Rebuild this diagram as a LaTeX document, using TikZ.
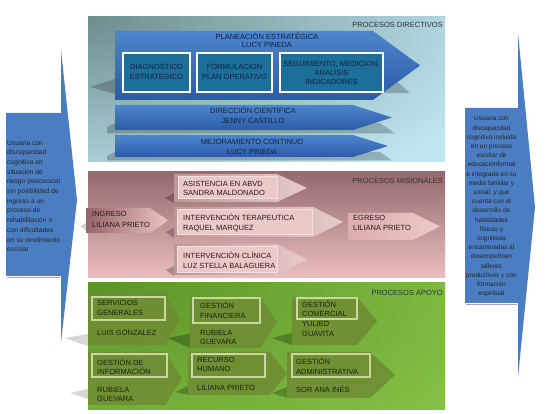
\documentclass[tikz,border=0pt]{standalone}
\usepackage{fontspec}
\setmainfont{Liberation Sans}
\definecolor{bigblue}{HTML}{4A7DC2}
\definecolor{arrtop}{HTML}{4D85CC}
\definecolor{arrbot}{HTML}{2B5CA7}
\definecolor{tealbox}{HTML}{1C6F99}
\definecolor{navytxt}{HTML}{13213F}
\definecolor{mistxt}{HTML}{2A1818}
\definecolor{apotxt}{HTML}{1A2410}
\definecolor{misarr}{HTML}{DDB4B4}
\definecolor{misin}{HTML}{ECC9C9}
\definecolor{misbd}{HTML}{F5DEDE}
\definecolor{apoarr}{HTML}{6F8D33}
\definecolor{apobd}{HTML}{C8D89E}
\definecolor{dirR}{HTML}{C0E6F0}
\definecolor{dirDk}{HTML}{6E8D8F}
\definecolor{misT}{HTML}{946A6E}
\definecolor{misB}{HTML}{EBBDBF}
\definecolor{misDk}{HTML}{7E545A}
\definecolor{apoL}{HTML}{5A9428}
\definecolor{apoR}{HTML}{96D452}
\newcommand{\pentarrow}[6][]{%
  \path[#1] (#2,#3) -- (#4,#3) -- (#5,{(#3+#6)/2}) -- (#4,#6) -- (#2,#6) -- cycle;}
\begin{document}
\begin{tikzpicture}[x=1pt,y=-1pt,
  sidetxt/.style={inner sep=0pt, text=black!85, font=\fontsize{6.7}{9.7}\selectfont},
  dirtxt/.style={inner sep=0pt, text=navytxt, align=center, font=\fontsize{7.5}{9.5}\selectfont},
  mistext/.style={inner sep=0pt, text=mistxt, align=left, anchor=west, font=\fontsize{7.5}{9.5}\selectfont},
  apotext/.style={inner sep=0pt, text=apotxt, align=left, anchor=west, font=\fontsize{7.5}{9.5}\selectfont},
  title/.style={inner sep=0pt, anchor=east, font=\fontsize{7.5}{9}\selectfont},
  bluearrow/.style={top color=arrtop, bottom color=arrbot},
  shadowgray/.style={fill=black, opacity=0.22},
  tealrect/.style={fill=tealbox, draw=white, line width=1.6pt},
  misarrow/.style={left color=misarr!85!black, right color=misarr!70!white},
  misrect/.style={fill=misin, draw=misbd, line width=1pt},
  apoarrow/.style={fill=apoarr, fill opacity=0.9},
  aporect/.style={draw=apobd, line width=1.2pt},
  darkwedge/.style={fill=black, opacity=0.25}
]
\useasboundingbox (0,0) rectangle (550,414);
\fill[white] (0,0) rectangle (550,414);

% ---------- side arrows ----------
\fill[bigblue] (6,113) -- (61,113) -- (61,50) -- (77,200) -- (61,342) -- (61,276) -- (6,276) -- cycle;
\draw[gray!70, line width=1pt] (7,278) -- (60,278);
\node[sidetxt, align=left, anchor=north west] (lefttxt) at (7,140)
  {Usuaria con\\discapacidad\\cognitiva en\\situación de\\riesgo psicosocial\\sin posibilidad de\\ingreso a un\\proceso de\\rehabilitación o\\con dificultades\\en su rendimiento\\escolar};

\fill[bigblue] (465,108) -- (518,108) -- (518,33) -- (535,207) -- (518,377) -- (518,303) -- (465,303) -- cycle;
\draw[gray!70, line width=1pt] (466,305) -- (517,305);
\node[inner sep=0pt, text=black!85, align=center, anchor=north, font=\fontsize{6.5}{9.2}\selectfont] (righttxt) at (491.5,116)
  {Usuaria con\\discapacidad\\cognitiva incluida\\en un proceso\\escolar de\\educaciónformal\\e integrada en su\\medio familiar y\\social, y que\\cuenta con el\\desarrollo de\\habilidades\\físicas y\\cognitivas\\encaminadas al\\desempeñoen\\talleres\\productivos y con\\formación\\espiritual};

% ---------- PROCESOS DIRECTIVOS ----------
\begin{scope}
\clip (88,17) rectangle (445,162);
\fill[dirR] (88,17) rectangle (445,162);
\shade[inner color=dirDk, outer color=dirR] (88,17) ellipse (440 and 200);
\end{scope}
\node[title, text=black!80] (tdir) at (443,25) {PROCESOS DIRECTIVOS};

\fill[shadowgray] (90,87) -- (115,79) -- (395,80) -- (410,93) -- (115,94) -- cycle;
\pentarrow[bluearrow]{115}{31}{373}{420}{100}
\node[dirtxt, font=\fontsize{7.5}{8.3}\selectfont] (plan) at (267,40) {PLANEACIÓN ESTRATÉGICA\\LUCY PINEDA};
\draw[tealrect] (123,53) rectangle (190,92);
\node[dirtxt] (diag) at (156.5,72) {DIAGNOSTICO\\ESTRATEGICO};
\draw[tealrect] (197,53) rectangle (272,92);
\node[dirtxt] (form) at (234.5,72) {FORMULACION\\PLAN OPERATIVO};
\draw[tealrect] (280,53) rectangle (383,92);
\node[dirtxt, font=\fontsize{7.5}{9}\selectfont] (segu) at (331.5,72.5) {SEGUIMIENTO, MEDICION,\\ANALISIS\\INDICADORES};

\fill[shadowgray] (107,127) -- (115,123) -- (380,123) -- (395,133.5) -- (107,133.5) -- cycle;
\pentarrow[bluearrow]{115}{105}{353}{392}{130}
\node[dirtxt, font=\fontsize{7.5}{10}\selectfont] (dirc) at (253,115.5) {DIRECCIÓN CIENTÍFICA\\JENNY CASTILLO};

\fill[shadowgray] (107,156) -- (115,152) -- (380,152) -- (392,160.5) -- (107,160.5) -- cycle;
\pentarrow[bluearrow]{115}{135}{353}{388}{157}
\node[dirtxt, font=\fontsize{7.5}{10}\selectfont] (mejo) at (252,146.5) {MEJORAMIENTO CONTINÚO\\LUCY PINEDA};

% ---------- PROCESOS MISIONALES ----------
\shade[top color=misT, bottom color=misB] (88,172) rectangle (445,278);
\node[title, text=black!80] (tmis) at (443,181) {PROCESOS MISIONALES};

\fill[darkwedge] (165,198) -- (174,193) -- (174,203) -- cycle;
\pentarrow[misarrow]{174}{174}{277}{307}{202}
\draw[misrect] (178,177) rectangle (277,199);
\node[mistext, font=\fontsize{7.5}{9}\selectfont] (asis) at (183,188) {ASISTENCIA EN ABVD\\SANDRA MALDONADO};

\fill[darkwedge] (166,232) -- (174,228) -- (174,238) -- cycle;
\pentarrow[misarrow]{174}{207}{313}{343}{237}
\draw[misrect] (177,210) rectangle (312,235);
\node[mistext] (tera) at (183,223) {INTERVENCIÓN TERAPEUTICA\\RAQUEL MARQUEZ};

\fill[darkwedge] (166,270) -- (174,266) -- (174,276) -- cycle;
\pentarrow[misarrow]{174}{244}{277}{307}{275}
\draw[misrect] (177,247) rectangle (277,273);
\node[mistext, font=\fontsize{7.5}{10}\selectfont] (clin) at (183,260) {INTERVENCIÓN CLÍNICA\\LUZ STELLA BALAGUERA};

\fill[black, opacity=0.18] (80,226) -- (88,222) -- (88,232) -- cycle;
\pentarrow[left color={rgb,255:red,150;green,100;blue,106}, right color={rgb,255:red,236;green,196;blue,196}]{86}{208}{150}{168}{233}
\node[mistext, font=\fontsize{7.5}{11}\selectfont] (ingr) at (92,219) {INGRESO\\LILIANA PRIETO};

\pentarrow[left color={rgb,255:red,220;green,172;blue,174}, right color={rgb,255:red,238;green,200;blue,200}]{348}{213}{413}{440}{240}
\node[mistext, font=\fontsize{7.5}{10}\selectfont] (egre) at (353,223.3) {EGRESO\\LILIANA PRIETO};

% ---------- PROCESOS APOYO ----------
\begin{scope}
\clip (88,283) rectangle (445,410);
\fill[apoR] (88,283) rectangle (445,410);
\shade[inner color=apoL, outer color=apoR] (88,283) ellipse (620 and 300);
\end{scope}
\node[title, text=black!80] (tapo) at (443,293) {PROCESOS APOYO};

\fill[black, opacity=0.16] (65,338) -- (88,334) -- (88,346) -- cycle;
\fill[black, opacity=0.16] (70,393) -- (88,389) -- (88,399) -- cycle;
\fill[darkwedge] (167,338) -- (190,334) -- (190,348) -- cycle;
\fill[darkwedge] (272,338) -- (292,333) -- (292,345) -- cycle;
\fill[darkwedge] (176,392) -- (188,386) -- (188,395) -- cycle;
\fill[darkwedge] (272,393) -- (287,387) -- (287,398) -- cycle;

\pentarrow[apoarrow]{88}{293}{165}{180}{345}
\draw[aporect] (92,297) rectangle (165,320);
\node[apotext, font=\fontsize{7.5}{10}\selectfont] (serv) at (97,308) {SERVICIOS\\GENERALES};
\node[apotext] (luis) at (97,333) {LUIS GONZALEZ};

\pentarrow[apoarrow]{190}{297}{260}{277}{348}
\draw[aporect] (193,298) rectangle (260,323);
\node[apotext, font=\fontsize{7.5}{10}\selectfont] (fina) at (200,310) {GESTIÓN\\FINANCIERA};
\node[apotext, font=\fontsize{7.5}{9}\selectfont] (rub1) at (200,337.5) {RUBIELA\\GUEVARA};

\pentarrow[apoarrow]{292}{297}{357}{377}{345}
\draw[aporect] (297,298) rectangle (357,319);
\node[apotext, font=\fontsize{7.5}{9.7}\selectfont] (come) at (302,318.5) {GESTIÓN\\COMERCIAL\\YULIED\\GUAVITA};

\pentarrow[apoarrow]{88}{352}{165}{182}{405}
\draw[aporect] (92,354) rectangle (167,377);
\node[apotext, font=\fontsize{7.5}{9}\selectfont] (info) at (97,366.5) {GESTIÓN DE\\INFORMACIÓN};
\node[apotext, font=\fontsize{7.5}{9}\selectfont] (rub2) at (97,394.5) {RUBIELA\\GUEVARA};

\pentarrow[apoarrow]{188}{352}{270}{287}{395}
\draw[aporect] (192,354) rectangle (265,377);
\node[apotext, font=\fontsize{7.5}{9}\selectfont] (recu) at (197,364.5) {RECURSO\\HUMANO};
\node[apotext] (lili) at (197,387.5) {LILIANA PRIETO};

\pentarrow[apoarrow]{287}{352}{370}{395}{398}
\draw[aporect] (292,354) rectangle (370,377);
\node[apotext, font=\fontsize{7.5}{9.7}\selectfont] (admi) at (296,366) {GESTIÓN\\ADMINISTRATIVA};
\node[apotext] (sora) at (296,389) {SOR ANA INÉS};
\end{tikzpicture}
\end{document}
